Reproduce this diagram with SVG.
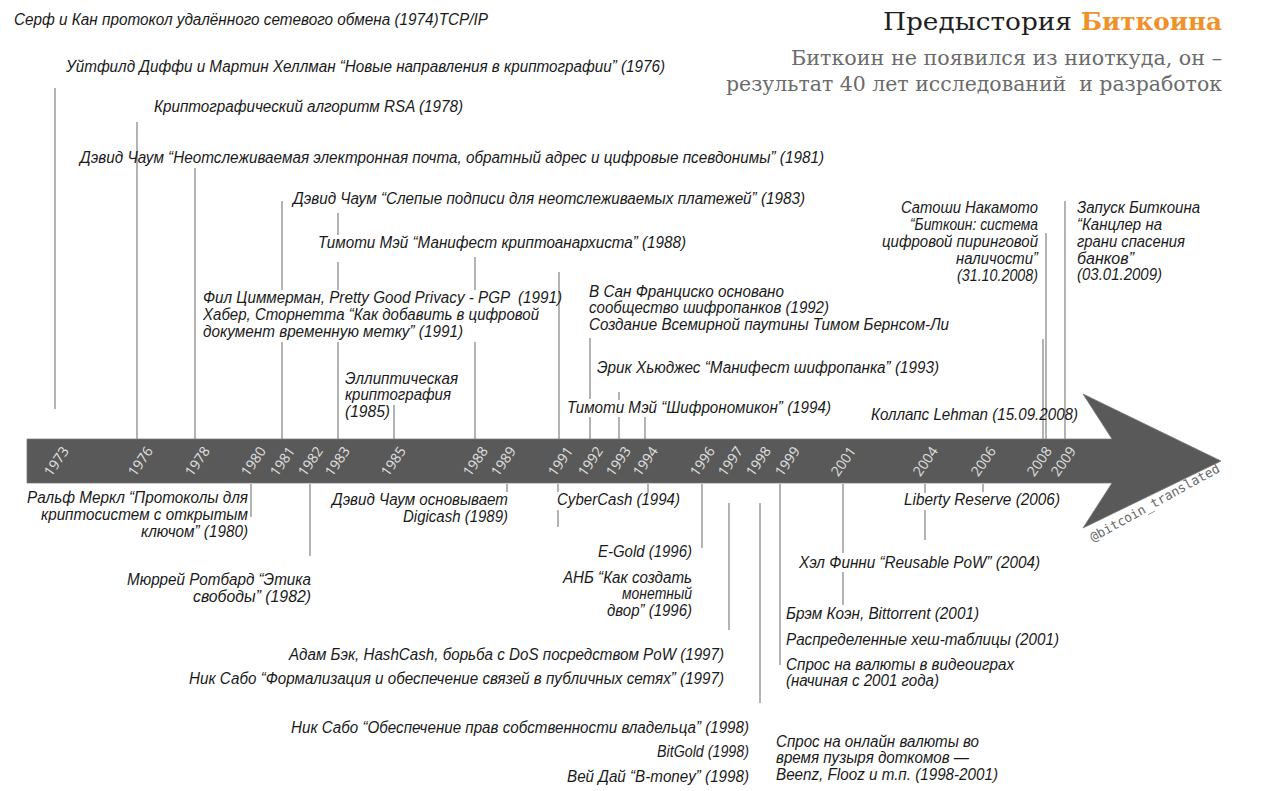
<svg xmlns="http://www.w3.org/2000/svg" width="1280" height="791" viewBox="0 0 1280 791">
<style>
.t{font-family:"Liberation Sans",Arial,sans-serif;font-style:italic;font-size:16px;fill:#1a1a1a;}
.e{text-anchor:end;}
.y{font-family:"Open Sans","DejaVu Sans",sans-serif;font-size:14px;fill:#e0e0e0;text-anchor:middle;dominant-baseline:central;}
.ln{stroke:#8c8c8c;stroke-width:1.3;fill:none;}
.ttl{font-family:"DejaVu Serif","Liberation Serif",serif;font-size:24px;}
.sub{font-family:"DejaVu Serif","Liberation Serif",serif;font-size:21px;fill:#6b6b6b;}
</style>
<rect width="1280" height="791" fill="#ffffff"/>

<g id="title">
<text class="ttl" x="883" y="30" textLength="189" lengthAdjust="spacingAndGlyphs" fill="#1f1f1f">Предыстория</text>
<text class="ttl" x="1081" y="30" textLength="141" lengthAdjust="spacingAndGlyphs" fill="#f0922b" font-weight="bold">Биткоина</text>
<text class="sub" x="1222" y="65" text-anchor="end" textLength="431" lengthAdjust="spacingAndGlyphs">Биткоин не появился из ниоткуда, он –</text>
<text class="sub" x="1222" y="91" text-anchor="end" textLength="496" lengthAdjust="spacingAndGlyphs" xml:space="preserve">результат 40 лет исследований  и разработок</text>
</g>

<g id="timeline">
<path d="M27,439 L1112,439 L1083,394 L1221,461 L1083,528 L1112,483 L27,483 Z" fill="#595959" stroke="#7a7a7a" stroke-width="0.8"/>
<text class="y" x="56" y="461" transform="rotate(-55 56 461)">1973</text>
<text class="y" x="140" y="461" transform="rotate(-55 140 461)">1976</text>
<text class="y" x="197" y="461" transform="rotate(-55 197 461)">1978</text>
<text class="y" x="253" y="461" transform="rotate(-55 253 461)">1980</text>
<text class="y" x="282" y="461" transform="rotate(-55 282 461)">1981</text>
<text class="y" x="310" y="461" transform="rotate(-55 310 461)">1982</text>
<text class="y" x="337" y="461" transform="rotate(-55 337 461)">1983</text>
<text class="y" x="393" y="461" transform="rotate(-55 393 461)">1985</text>
<text class="y" x="475" y="461" transform="rotate(-55 475 461)">1988</text>
<text class="y" x="503" y="461" transform="rotate(-55 503 461)">1989</text>
<text class="y" x="560" y="461" transform="rotate(-55 560 461)">1991</text>
<text class="y" x="590" y="461" transform="rotate(-55 590 461)">1992</text>
<text class="y" x="618" y="461" transform="rotate(-55 618 461)">1993</text>
<text class="y" x="645" y="461" transform="rotate(-55 645 461)">1994</text>
<text class="y" x="702" y="461" transform="rotate(-55 702 461)">1996</text>
<text class="y" x="730" y="461" transform="rotate(-55 730 461)">1997</text>
<text class="y" x="758" y="461" transform="rotate(-55 758 461)">1998</text>
<text class="y" x="787" y="461" transform="rotate(-55 787 461)">1999</text>
<text class="y" x="843" y="461" transform="rotate(-55 843 461)">2001</text>
<text class="y" x="925" y="461" transform="rotate(-55 925 461)">2004</text>
<text class="y" x="983" y="461" transform="rotate(-55 983 461)">2006</text>
<text class="y" x="1039" y="461" transform="rotate(-55 1039 461)">2008</text>
<text class="y" x="1063" y="461" transform="rotate(-55 1063 461)">2009</text>
<text x="1093" y="542" transform="rotate(-29 1093 542)" font-family="'DejaVu Sans Mono','Liberation Mono',monospace" font-size="13" fill="#6a6a6a" textLength="146" lengthAdjust="spacingAndGlyphs">@bitcoin_translated</text>
</g>

<g id="connectors">
<path class="ln" d="M55,88V409 M137,122V439 M195,168V439 M282,201V290 M282,342V439 M338,213V235 M338,262V290 M338,342V439 M394,405V439 M475,257V290 M475,342V439 M559,272V439 M590,338V399 M590,417V439 M619,392V400 M619,417V439 M645,417V439 M1043,339V439 M1046,233V439 M1065,201V439"/>
<path class="ln" d="M251,484V517 M310,484V556 M507,484V492 M558,484V492 M558,510V527 M648,484V493 M702,484V548 M729,503V630 M760,503V703 M780,484V665 M843,484V553 M843,572V605 M925,484V493 M925,510V540 M983,484V492"/>
</g>

<g id="n1974"><text class="t" x="14" y="25" textLength="474" lengthAdjust="spacingAndGlyphs">Серф и Кан протокол удалённого сетевого обмена (1974)TCP/IP</text></g>
<g id="n1976"><text class="t" x="66" y="72" textLength="599" lengthAdjust="spacingAndGlyphs">Уйтфилд Диффи и Мартин Хеллман “Новые направления в криптографии” (1976)</text></g>
<g id="n1978"><text class="t" x="154" y="112" textLength="309" lengthAdjust="spacingAndGlyphs">Криптографический алгоритм RSA (1978)</text></g>
<g id="n1981"><text class="t" x="80" y="163" textLength="744" lengthAdjust="spacingAndGlyphs">Дэвид Чаум “Неотслеживаемая электронная почта, обратный адрес и цифровые псевдонимы” (1981)</text></g>
<g id="n1983"><text class="t" x="293" y="204" textLength="512" lengthAdjust="spacingAndGlyphs">Дэвид Чаум “Слепые подписи для неотслеживаемых платежей” (1983)</text></g>
<g id="n1988"><text class="t" x="318" y="248" textLength="368" lengthAdjust="spacingAndGlyphs">Тимоти Мэй “Манифест криптоанархиста” (1988)</text></g>
<g id="n1991">
<text class="t" x="203" y="303" textLength="359" lengthAdjust="spacingAndGlyphs" xml:space="preserve">Фил Циммерман, Pretty Good Privacy - PGP  (1991)</text>
<text class="t" x="203" y="320" textLength="336" lengthAdjust="spacingAndGlyphs">Хабер, Сторнетта “Как добавить в цифровой</text>
<text class="t" x="203" y="337" textLength="260" lengthAdjust="spacingAndGlyphs">документ временную метку” (1991)</text>
</g>
<g id="n1985">
<text class="t" x="345" y="384" textLength="113" lengthAdjust="spacingAndGlyphs">Эллиптическая</text>
<text class="t" x="345" y="400" textLength="106" lengthAdjust="spacingAndGlyphs">криптография</text>
<text class="t" x="345" y="417" textLength="45" lengthAdjust="spacingAndGlyphs">(1985)</text>
</g>
<g id="n1992">
<text class="t" x="589" y="297" textLength="195" lengthAdjust="spacingAndGlyphs">В Сан Франциско основано</text>
<text class="t" x="589" y="313" textLength="240" lengthAdjust="spacingAndGlyphs">сообщество шифропанков (1992)</text>
<text class="t" x="589" y="330" textLength="360" lengthAdjust="spacingAndGlyphs">Создание Всемирной паутины Тимом Бернсом-Ли</text>
</g>
<g id="n1993"><text class="t" x="597" y="373" textLength="342" lengthAdjust="spacingAndGlyphs">Эрик Хьюджес “Манифест шифропанка” (1993)</text></g>
<g id="n1994a"><text class="t" x="567" y="413" textLength="264" lengthAdjust="spacingAndGlyphs">Тимоти Мэй “Шифрономикон” (1994)</text></g>
<g id="n2008a"><text class="t" x="871" y="420" textLength="207" lengthAdjust="spacingAndGlyphs">Коллапс Lehman (15.09.2008)</text></g>
<g id="n2008b">
<text class="t e" x="1038" y="213" textLength="137" lengthAdjust="spacingAndGlyphs">Сатоши Накамото</text>
<text class="t e" x="1038" y="230" textLength="128" lengthAdjust="spacingAndGlyphs">“Биткоин: система</text>
<text class="t e" x="1038" y="247" textLength="156" lengthAdjust="spacingAndGlyphs">цифровой пиринговой</text>
<text class="t e" x="1038" y="264" textLength="82" lengthAdjust="spacingAndGlyphs">наличости”</text>
<text class="t e" x="1038" y="281" textLength="81" lengthAdjust="spacingAndGlyphs">(31.10.2008)</text>
</g>
<g id="n2009">
<text class="t" x="1077" y="213" textLength="123" lengthAdjust="spacingAndGlyphs">Запуск Биткоина</text>
<text class="t" x="1077" y="230" textLength="85" lengthAdjust="spacingAndGlyphs">“Канцлер на</text>
<text class="t" x="1077" y="247" textLength="108" lengthAdjust="spacingAndGlyphs">грани спасения</text>
<text class="t" x="1077" y="264" textLength="57" lengthAdjust="spacingAndGlyphs">банков”</text>
<text class="t" x="1077" y="280" textLength="85" lengthAdjust="spacingAndGlyphs">(03.01.2009)</text>
</g>

<g id="n1980">
<text class="t e" x="248" y="503" textLength="221" lengthAdjust="spacingAndGlyphs">Ральф Меркл “Протоколы для</text>
<text class="t e" x="248" y="520" textLength="207" lengthAdjust="spacingAndGlyphs">криптосистем с открытым</text>
<text class="t e" x="248" y="537" textLength="107" lengthAdjust="spacingAndGlyphs">ключом” (1980)</text>
</g>
<g id="n1982">
<text class="t e" x="311" y="585" textLength="184" lengthAdjust="spacingAndGlyphs">Мюррей Ротбард “Этика</text>
<text class="t e" x="311" y="602" textLength="118" lengthAdjust="spacingAndGlyphs">свободы” (1982)</text>
</g>
<g id="n1989">
<text class="t e" x="508" y="505" textLength="176" lengthAdjust="spacingAndGlyphs">Дэвид Чаум основывает</text>
<text class="t e" x="508" y="522" textLength="105" lengthAdjust="spacingAndGlyphs">Digicash (1989)</text>
</g>
<g id="n1994b"><text class="t" x="557" y="505" textLength="123" lengthAdjust="spacingAndGlyphs">CyberCash (1994)</text></g>
<g id="n1996a"><text class="t e" x="692" y="557" textLength="94" lengthAdjust="spacingAndGlyphs">E-Gold (1996)</text></g>
<g id="n1996b">
<text class="t e" x="692" y="583" textLength="129" lengthAdjust="spacingAndGlyphs">АНБ “Как создать</text>
<text class="t e" x="692" y="599" textLength="70" lengthAdjust="spacingAndGlyphs">монетный</text>
<text class="t e" x="692" y="616" textLength="85" lengthAdjust="spacingAndGlyphs">двор” (1996)</text>
</g>
<g id="n1997a"><text class="t e" x="724" y="660" textLength="435" lengthAdjust="spacingAndGlyphs">Адам Бэк, HashCash, борьба с DoS посредством PoW (1997)</text></g>
<g id="n1997b"><text class="t e" x="724" y="684" textLength="535" lengthAdjust="spacingAndGlyphs">Ник Сабо “Формализация и обеспечение связей в публичных сетях” (1997)</text></g>
<g id="n1998a"><text class="t e" x="749" y="733" textLength="458" lengthAdjust="spacingAndGlyphs">Ник Сабо “Обеспечение прав собственности владельца” (1998)</text></g>
<g id="n1998b"><text class="t e" x="749" y="757" textLength="92" lengthAdjust="spacingAndGlyphs">BitGold (1998)</text></g>
<g id="n1998c"><text class="t e" x="749" y="782" textLength="182" lengthAdjust="spacingAndGlyphs">Вей Дай “B-money” (1998)</text></g>
<g id="n1998d">
<text class="t" x="776" y="747" textLength="203" lengthAdjust="spacingAndGlyphs">Спрос на онлайн валюты во</text>
<text class="t" x="776" y="763" textLength="193" lengthAdjust="spacingAndGlyphs">время пузыря доткомов —</text>
<text class="t" x="776" y="780" textLength="222" lengthAdjust="spacingAndGlyphs">Beenz, Flooz и т.п. (1998-2001)</text>
</g>
<g id="n2006"><text class="t" x="904" y="505" textLength="156" lengthAdjust="spacingAndGlyphs">Liberty Reserve (2006)</text></g>
<g id="n2004"><text class="t" x="799" y="568" textLength="241" lengthAdjust="spacingAndGlyphs">Хэл Финни “Reusable PoW” (2004)</text></g>
<g id="n2001a"><text class="t" x="786" y="619" textLength="193" lengthAdjust="spacingAndGlyphs">Брэм Коэн, Bittorrent (2001)</text></g>
<g id="n2001b"><text class="t" x="786" y="645" textLength="273" lengthAdjust="spacingAndGlyphs">Распределенные хеш-таблицы (2001)</text></g>
<g id="n2001c">
<text class="t" x="786" y="670" textLength="228" lengthAdjust="spacingAndGlyphs">Спрос на валюты в видеоиграх</text>
<text class="t" x="786" y="686" textLength="153" lengthAdjust="spacingAndGlyphs">(начиная с 2001 года)</text>
</g>
</svg>
